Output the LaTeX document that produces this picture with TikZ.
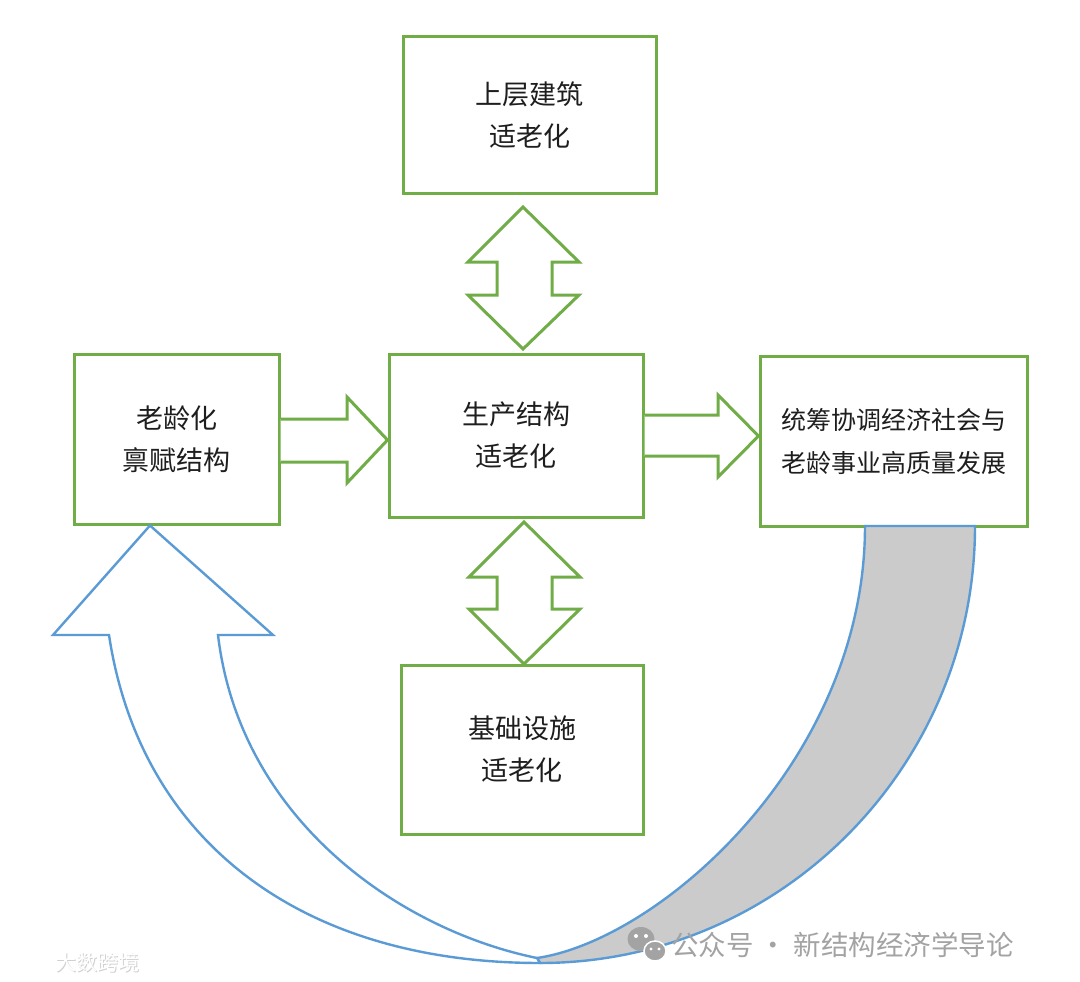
\documentclass[tikz,border=0pt]{standalone}
\usepackage{fontspec}
\newfontfamily\cjk{Noto Sans CJK SC}
\definecolor{boxgreen}{HTML}{70AD47}
\definecolor{arrowblue}{HTML}{5B9BD5}
\definecolor{bandgray}{HTML}{CBCBCB}
\definecolor{wmgray}{HTML}{A3A3A3}
\definecolor{txt}{HTML}{1E1E1E}
\begin{document}
\begin{tikzpicture}[x=1pt,y=-1pt,
  gbox/.style={draw=boxgreen,line width=3pt,fill=white,inner sep=0pt,align=center,
    text=txt,font=\cjk\fontsize{27pt}{42pt}\selectfont},
  garrow/.style={draw=boxgreen,line width=3pt,fill=white,line join=miter},
  barrow/.style={draw=arrowblue,line width=2.4pt,line join=miter}]
\useasboundingbox (0,0) rectangle (1080,982);
\fill[white] (0,0) rectangle (1080,982);

% boxes
\node[gbox,minimum width=253pt,minimum height=156pt] (T) at (529.5,115) {上层建筑\\适老化};
\node[gbox,minimum width=254pt,minimum height=163pt] (M) at (516,435.5) {生产结构\\适老化};
\node[gbox,minimum width=205pt,minimum height=170pt] (L) at (176.5,439) {老龄化\\禀赋结构};
\node[gbox,minimum width=267pt,minimum height=170pt,font=\cjk\fontsize{25pt}{43pt}\selectfont] (R) at (893.5,441) {统筹协调经济社会与\\老龄事业高质量发展};
\node[gbox,minimum width=242pt,minimum height=169pt] (B) at (522,749.5) {基础设施\\适老化};

% block arrow L -> M
\draw[garrow] (L.east |- 0,419) -- (347,419) -- (347,397) -- (M.west |- 0,440)
  -- (347,483) -- (347,462) -- (L.east |- 0,462);
% block arrow M -> R
\draw[garrow] (M.east |- 0,415) -- (718,415) -- (718,395) -- (R.west |- 0,436)
  -- (718,477) -- (718,456) -- (M.east |- 0,456);
% double arrow T <-> M
\draw[garrow] (523,207) -- (579,262) -- (552,262) -- (552,295) -- (579,295) -- (523,349)
  -- (468,295) -- (497,295) -- (497,262) -- (468,262) -- cycle;
% double arrow M <-> B
\draw[garrow] (524,522) -- (580,577) -- (552,577) -- (552,609) -- (580,609) -- (524,664)
  -- (469,609) -- (497,609) -- (497,577) -- (469,577) -- cycle;

% curved arrow: gray back part
\draw[barrow,fill=bandgray] (865,526) -- (975,526) .. controls (975,767) and (780,963) .. (540,963)
  -- (537,958) .. controls (660,940) and (865,760) .. (865,526) -- cycle;
% curved arrow: white front part with head
\coordinate (tip) at (L.south -| 150,0);
\draw[barrow,fill=white] (tip) -- (273,635) -- (218,635) .. controls (240,820) and (400,930) .. (537,958)
  -- (540,963) .. controls (300,963) and (140,840) .. (109,635) -- (53,635) -- cycle;

% watermarks
\fill[wmgray] (641,939) ellipse (13.5pt and 12pt);
\fill[white] (636,936) circle (2pt) (646,936) circle (2pt);
\draw[white,line width=1.5pt,fill=wmgray] (655,951) ellipse (11pt and 10pt);
\fill[white] (651,949) circle (1.6pt) (659,949) circle (1.6pt);
\node[anchor=west,inner sep=0pt,text=wmgray,font=\cjk\fontsize{27.5pt}{30pt}\selectfont] (wm) at (671,945) {公众号 · 新结构经济学导论};
\node[anchor=west,inner sep=0pt,text=black!18,font=\cjk\fontsize{21pt}{24pt}\selectfont] (wm2) at (56.5,963.5) {大数跨境};
\node[anchor=west,inner sep=0pt,text=white,font=\cjk\fontsize{21pt}{24pt}\selectfont] (wm3) at (55,962) {大数跨境};
\end{tikzpicture}
\end{document}
